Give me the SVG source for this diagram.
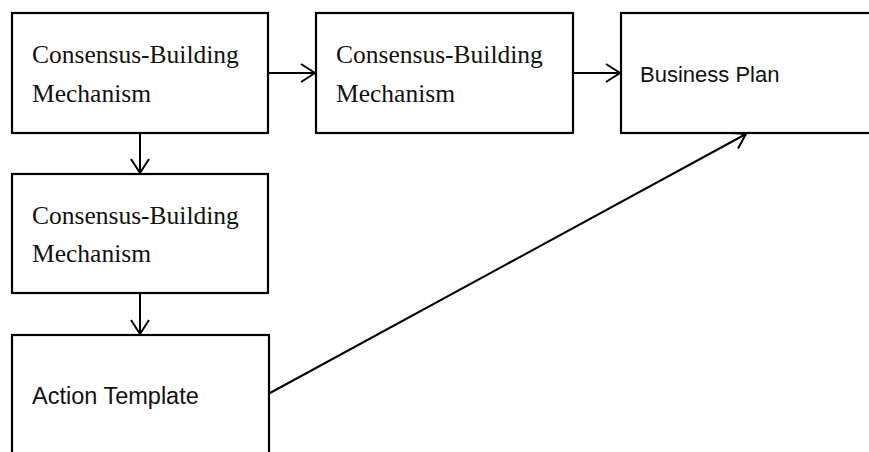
<svg xmlns="http://www.w3.org/2000/svg" width="869" height="452" viewBox="0 0 869 452">
<defs>
<style>
.box{fill:#fff;stroke:#000;stroke-width:2.2}
.serif{font-family:"Liberation Serif","Times New Roman",serif;font-size:25.5px;fill:#111}
.sans{font-family:"Liberation Sans",Arial,sans-serif;font-size:22px;fill:#111}
.conn{stroke:#000;stroke-width:2;fill:none}
</style>
<marker id="arr" markerUnits="userSpaceOnUse" markerWidth="20" markerHeight="22" refX="16" refY="11" orient="auto" viewBox="0 0 20 22">
<path d="M2,2 L16,11 L2,20" fill="none" stroke="#000" stroke-width="2"/>
</marker>
</defs>
<rect width="869" height="452" fill="#fff"/>
<g id="connectors">
<line class="conn" x1="268" y1="73" x2="315" y2="73" marker-end="url(#arr)"/>
<line class="conn" x1="573" y1="73" x2="620" y2="73" marker-end="url(#arr)"/>
<line class="conn" x1="140" y1="133" x2="140" y2="173" marker-end="url(#arr)"/>
<line class="conn" x1="140" y1="293" x2="140" y2="334" marker-end="url(#arr)"/>
<line class="conn" x1="270" y1="393" x2="746" y2="134" marker-end="url(#arr)"/>
</g>
<g id="node1">
<rect class="box" x="12" y="13" width="256" height="120"/>
<text class="serif" x="32" y="63">Consensus-Building</text>
<text class="serif" x="32" y="102">Mechanism</text>
</g>
<g id="node2">
<rect class="box" x="316" y="13" width="257" height="120"/>
<text class="serif" x="336" y="63">Consensus-Building</text>
<text class="serif" x="336" y="102">Mechanism</text>
</g>
<g id="node3">
<rect class="box" x="621" y="13" width="260" height="120"/>
<text class="sans" x="640" y="82">Business Plan</text>
</g>
<g id="node4">
<rect class="box" x="12" y="174" width="256" height="119"/>
<text class="serif" x="32" y="224">Consensus-Building</text>
<text class="serif" x="32" y="262">Mechanism</text>
</g>
<g id="node5">
<rect class="box" x="12" y="335" width="257" height="130"/>
<text class="sans" x="32" y="404" style="font-size:23.5px">Action Template</text>
</g>
</svg>
